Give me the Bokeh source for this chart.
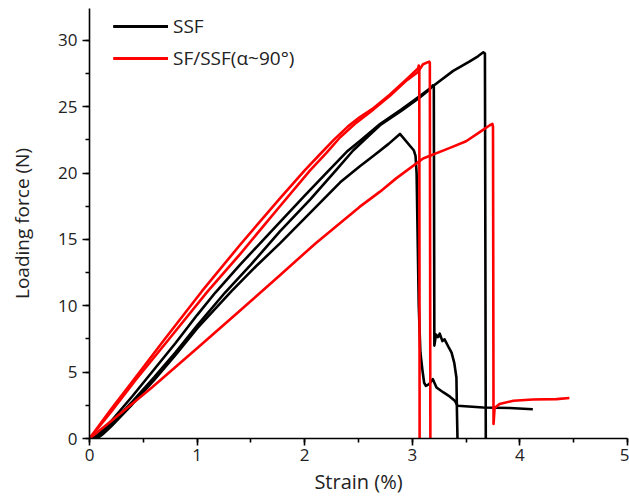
from bokeh.plotting import figure
from bokeh.models import SingleIntervalTicker, Range1d
from bokeh.embed import file_html
from bokeh.resources import INLINE

# SSF curves (black)
ssf1_x = [0, 0.05, 0.1, 0.2, 0.4, 0.6, 0.8, 1.0, 1.17, 1.4, 1.7, 2.0, 2.2, 2.39, 2.51, 2.7, 2.9, 3.07, 3.2, 3.38, 3.53, 3.61, 3.66, 3.675, 3.683]
ssf1_y = [0, 0.1, 0.45, 1.3, 3.2, 5.2, 7.2, 9.3, 11.0, 13.1, 15.7, 18.3, 20.0, 21.6, 22.4, 23.7, 24.8, 25.8, 26.6, 27.7, 28.4, 28.8, 29.1, 29.0, 0]

ssf2_x = [0, 0.05, 0.1, 0.2, 0.4, 0.6, 0.8, 1.0, 1.26, 1.5, 1.77, 2.05, 2.3, 2.45, 2.6, 2.7, 2.9, 3.07, 3.16, 3.19, 3.2, 3.205,
          3.22, 3.24, 3.255, 3.28, 3.30, 3.34, 3.365, 3.39, 3.41, 3.415, 3.42]
ssf2_y = [0, 0.05, 0.35, 1.1, 2.8, 4.6, 6.5, 8.5, 11.0, 13.1, 15.6, 18.0, 20.3, 21.7, 22.85, 23.6, 24.7, 25.7, 26.3, 26.6, 26.5, 7.0,
          7.84, 7.64, 7.9, 7.34, 7.47, 6.84, 6.47, 5.7, 4.6, 2.0, 0]

ssf3_x = [0, 0.07, 0.12, 0.2, 0.4, 0.6, 0.8, 1.0, 1.32, 1.55, 1.77, 2.05, 2.33, 2.51, 2.64, 2.78, 2.885, 3.015, 3.03, 3.04, 3.05,
          3.06, 3.075, 3.095, 3.11, 3.126, 3.157, 3.19, 3.2, 3.225, 3.29, 3.35, 3.395, 3.42, 3.66, 3.905, 4.12]
ssf3_y = [0, 0, 0.3, 0.9, 2.6, 4.4, 6.3, 8.3, 11.1, 13.0, 14.7, 17.0, 19.3, 20.5, 21.3, 22.2, 22.95, 21.7, 21.3, 20.0, 15.0,
          10.0, 6.5, 5.1, 4.2, 3.97, 4.1, 4.47, 4.3, 3.84, 3.47, 3.15, 2.85, 2.47, 2.34, 2.30, 2.2]

# SF/SSF curves (red)
sf1_x = [0, 0.2, 0.427, 0.7, 1.045, 1.4, 1.77, 2.0, 2.14, 2.27, 2.4, 2.51, 2.64, 2.79, 2.95, 3.055, 3.06, 3.065, 3.068]
sf1_y = [0, 2.2, 4.6, 7.5, 11.1, 14.6, 18.1, 20.2, 21.4, 22.5, 23.5, 24.2, 24.9, 25.9, 27.1, 27.9, 28.1, 27.9, 0]

sf2_x = [0, 0.2, 0.427, 0.7, 1.10, 1.4, 1.77, 2.05, 2.20, 2.33, 2.48, 2.64, 2.79, 2.95, 3.05, 3.10, 3.157, 3.163, 3.168]
sf2_y = [0, 2.0, 4.4, 7.1, 11.1, 13.9, 17.5, 20.2, 21.5, 22.7, 23.8, 24.8, 25.8, 27.0, 27.6, 28.2, 28.4, 28.3, 0]

sf3_x = [0, 0.2, 0.58, 1.0, 1.40, 1.77, 2.1, 2.51, 2.70, 2.85, 3.10, 3.35, 3.50, 3.63, 3.72, 3.745, 3.75, 3.755,
         3.765, 3.81, 3.94, 4.12, 4.34, 4.46]
sf3_y = [0, 1.3, 3.84, 6.8, 9.64, 12.3, 14.7, 17.45, 18.6, 19.6, 21.1, 21.9, 22.4, 23.1, 23.6, 23.7, 23.5, 1.1,
         2.3, 2.6, 2.85, 2.94, 2.97, 3.05]

x_label = "Strain (%)"
y_label = "Loading force (N)"

FONT = "Open Sans"
TXT = "#222222"

p = figure(width=629, height=502, output_backend="svg", toolbar_location=None,
           x_range=Range1d(0, 5), y_range=Range1d(0, 32.4),
           min_border_left=89, min_border_right=2, min_border_top=8, min_border_bottom=64)
p.outline_line_color = None
p.xgrid.visible = False
p.ygrid.visible = False

for ax, interval in ((p.xaxis[0], 1), (p.yaxis[0], 5)):
    ax.ticker = SingleIntervalTicker(interval=interval, num_minor_ticks=2)
    ax.axis_line_width = 1.6
    ax.axis_line_color = "black"
    ax.major_tick_line_width = 1.6
    ax.minor_tick_line_width = 1.6
    ax.major_tick_line_color = "black"
    ax.minor_tick_line_color = "black"
    ax.major_tick_out = 7
    ax.major_tick_in = 0
    ax.minor_tick_out = 4
    ax.minor_tick_in = 0
    ax.major_label_text_font = FONT
    ax.major_label_text_font_size = "17px"
    ax.major_label_text_color = TXT
    ax.axis_label_text_font = FONT
    ax.axis_label_text_font_style = "normal"
    ax.axis_label_text_color = TXT

p.xaxis.axis_label_text_font_size = "20px"
p.yaxis.axis_label_text_font_size = "19px"
p.xaxis.axis_label = x_label
p.yaxis.axis_label = y_label
p.xaxis.major_label_standoff = 3
p.yaxis.major_label_standoff = 5
p.xaxis.axis_label_standoff = 4
p.yaxis.axis_label_standoff = 20

LW = 2.6
for xs, ys in ((ssf1_x, ssf1_y), (ssf2_x, ssf2_y), (ssf3_x, ssf3_y)):
    p.line(xs, ys, line_color="black", line_width=LW, line_join="round", legend_label="SSF")
for xs, ys in ((sf1_x, sf1_y), (sf2_x, sf2_y), (sf3_x, sf3_y)):
    p.line(xs, ys, line_color="#ff0000", line_width=LW, line_join="round", legend_label="SF/SSF(α~90°)")

lg = p.legend[0]
lg.location = (24, 367)
lg.padding = 0
lg.margin = 0
lg.border_line_alpha = 0
lg.background_fill_alpha = 0
lg.label_text_font = FONT
lg.label_text_font_size = "19px"
lg.label_text_color = TXT
lg.glyph_width = 55
lg.glyph_height = 24
lg.label_height = 24
lg.spacing = 6
lg.label_standoff = 5

open("out.html", "w").write(file_html(p, INLINE))
